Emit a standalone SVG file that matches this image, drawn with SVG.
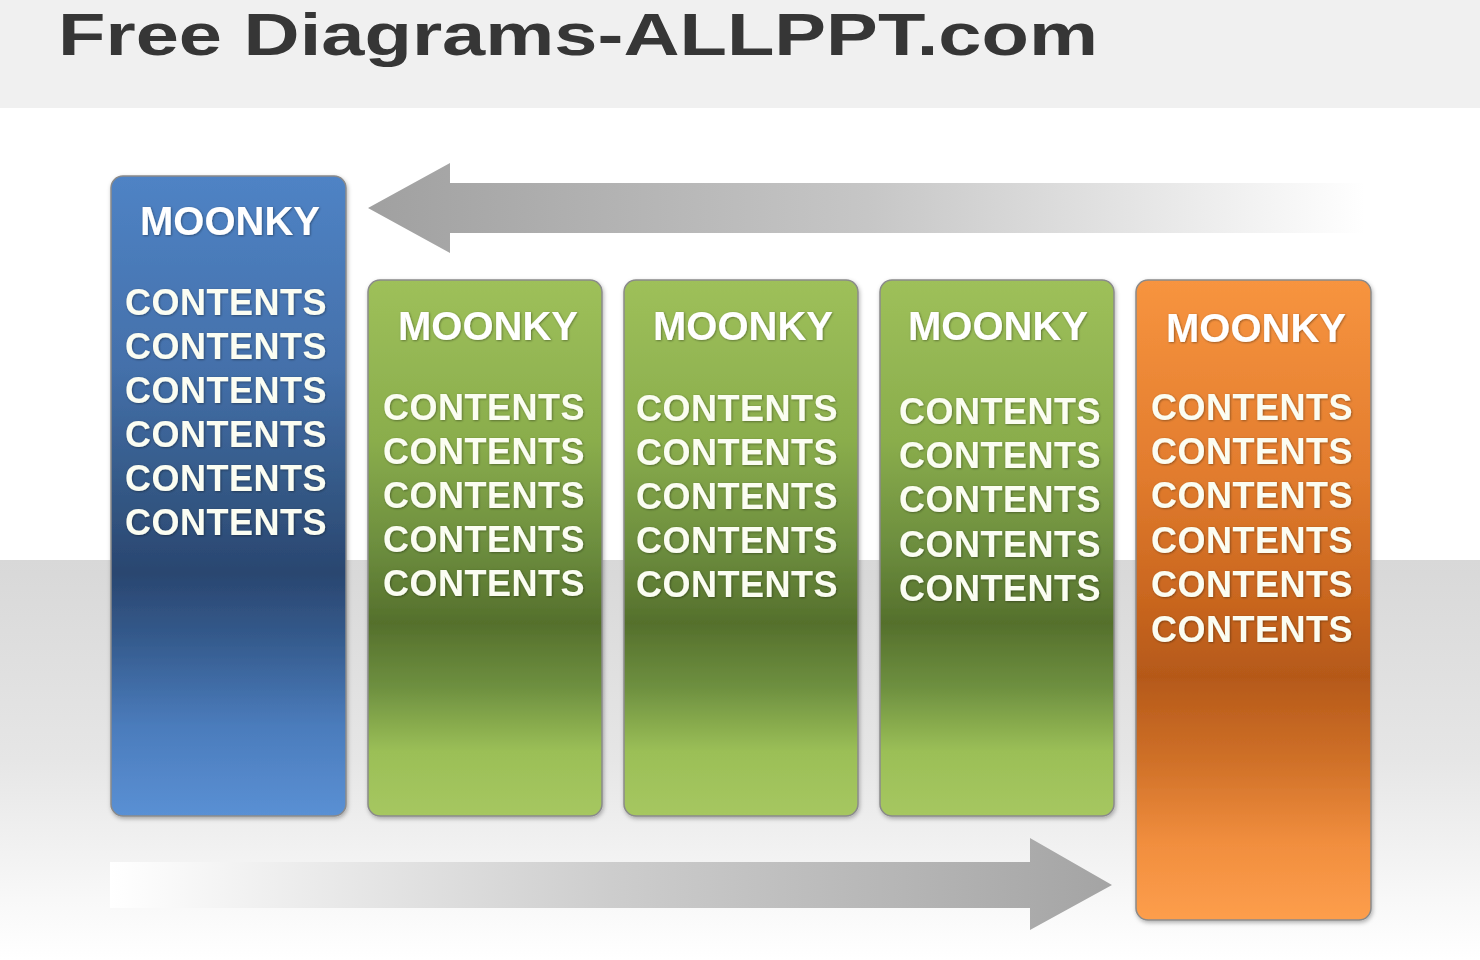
<svg xmlns="http://www.w3.org/2000/svg" width="1480" height="960" viewBox="0 0 1480 960">
<defs>
<linearGradient id="gBlue" x1="0" y1="0" x2="0" y2="1">
<stop offset="0" stop-color="#4f83c5"/><stop offset="0.3" stop-color="#4470aa"/><stop offset="0.5" stop-color="#335784"/><stop offset="0.62" stop-color="#2a4670"/><stop offset="0.72" stop-color="#345a8c"/><stop offset="0.86" stop-color="#4b7cbc"/><stop offset="1" stop-color="#5a90d4"/>
</linearGradient>
<linearGradient id="gGreen" x1="0" y1="0" x2="0" y2="1">
<stop offset="0" stop-color="#9ec05a"/><stop offset="0.3" stop-color="#8aad4c"/><stop offset="0.5" stop-color="#6c8d3e"/><stop offset="0.64" stop-color="#55702c"/><stop offset="0.76" stop-color="#6e9040"/><stop offset="0.88" stop-color="#9bbf57"/><stop offset="1" stop-color="#a6c760"/>
</linearGradient>
<linearGradient id="gOrange" x1="0" y1="0" x2="0" y2="1">
<stop offset="0" stop-color="#f7943f"/><stop offset="0.3" stop-color="#e27c2e"/><stop offset="0.5" stop-color="#c9661f"/><stop offset="0.62" stop-color="#b55919"/><stop offset="0.75" stop-color="#cf7028"/><stop offset="0.88" stop-color="#f18e3e"/><stop offset="1" stop-color="#fd9e4c"/>
</linearGradient>
<linearGradient id="gFloor" x1="0" y1="0" x2="0" y2="1">
<stop offset="0" stop-color="#d8d8d8"/><stop offset="0.5" stop-color="#e6e6e6"/><stop offset="0.85" stop-color="#f8f8f8"/><stop offset="1" stop-color="#ffffff"/>
</linearGradient>
<linearGradient id="gArrowL" x1="368" y1="0" x2="1365" y2="0" gradientUnits="userSpaceOnUse">
<stop offset="0" stop-color="#a0a0a0"/><stop offset="0.5" stop-color="#c6c6c6"/><stop offset="1" stop-color="#ffffff"/>
</linearGradient>
<linearGradient id="gArrowR" x1="110" y1="0" x2="1112" y2="0" gradientUnits="userSpaceOnUse">
<stop offset="0" stop-color="#ffffff"/><stop offset="0.5" stop-color="#cdcdcd"/><stop offset="1" stop-color="#a4a4a4"/>
</linearGradient>
<filter id="shadow" x="-10%" y="-5%" width="120%" height="110%">
<feDropShadow dx="1" dy="2" stdDeviation="2" flood-color="#000" flood-opacity="0.3"/>
</filter>
<filter id="tshadow" x="-5%" y="-20%" width="110%" height="140%">
<feDropShadow dx="0.8" dy="0.8" stdDeviation="0.8" flood-color="#000" flood-opacity="0.4"/>
</filter>
</defs>
<style>
.box{stroke:#8a8a8a;stroke-width:1.5;filter:url(#shadow)}
.title{font-family:"Liberation Sans",Arial,sans-serif;font-weight:bold;font-size:40px;fill:#ffffff;text-anchor:middle;filter:url(#tshadow)}
.body{font-family:"Liberation Sans",Arial,sans-serif;font-weight:bold;font-size:36px;fill:#fbfdf2;text-anchor:middle;letter-spacing:0.5px;filter:url(#tshadow)}
.head{font-family:"Liberation Sans",Arial,sans-serif;font-weight:bold;font-size:60px;fill:#363636}
</style>
<rect x="0" y="0" width="1480" height="960" fill="#ffffff"/>
<rect x="0" y="0" width="1480" height="108" fill="#f0f0f0"/>
<rect x="0" y="560" width="1480" height="400" fill="url(#gFloor)"/>
<text class="head" x="58" y="55" textLength="1040" lengthAdjust="spacingAndGlyphs">Free Diagrams-ALLPPT.com</text>

<g id="connectors">
<polygon points="368,208 450,163 450,183 1365,183 1365,233 450,233 450,253" fill="url(#gArrowL)"/>
<polygon points="110,862 1030,862 1030,838 1112,885 1030,930 1030,908 110,908" fill="url(#gArrowR)"/>
</g>

<g id="node1">
<rect class="box" x="111" y="176" width="235" height="640" rx="12" fill="url(#gBlue)"/>
<text class="title" x="230" y="235">MOONKY</text>
<text class="body" x="226" y="315">CONTENTS</text>
<text class="body" x="226" y="359">CONTENTS</text>
<text class="body" x="226" y="403">CONTENTS</text>
<text class="body" x="226" y="447">CONTENTS</text>
<text class="body" x="226" y="491">CONTENTS</text>
<text class="body" x="226" y="535">CONTENTS</text>
</g>

<g id="node2">
<rect class="box" x="368" y="280" width="234" height="536" rx="12" fill="url(#gGreen)"/>
<text class="title" x="488" y="340">MOONKY</text>
<text class="body" x="484" y="420">CONTENTS</text>
<text class="body" x="484" y="464">CONTENTS</text>
<text class="body" x="484" y="508">CONTENTS</text>
<text class="body" x="484" y="552">CONTENTS</text>
<text class="body" x="484" y="596">CONTENTS</text>
</g>

<g id="node3">
<rect class="box" x="624" y="280" width="234" height="536" rx="12" fill="url(#gGreen)"/>
<text class="title" x="743" y="340">MOONKY</text>
<text class="body" x="737" y="421">CONTENTS</text>
<text class="body" x="737" y="465">CONTENTS</text>
<text class="body" x="737" y="509">CONTENTS</text>
<text class="body" x="737" y="553">CONTENTS</text>
<text class="body" x="737" y="597">CONTENTS</text>
</g>

<g id="node4">
<rect class="box" x="880" y="280" width="234" height="536" rx="12" fill="url(#gGreen)"/>
<text class="title" x="998" y="340">MOONKY</text>
<text class="body" x="1000" y="424">CONTENTS</text>
<text class="body" x="1000" y="468">CONTENTS</text>
<text class="body" x="1000" y="512">CONTENTS</text>
<text class="body" x="1000" y="557">CONTENTS</text>
<text class="body" x="1000" y="601">CONTENTS</text>
</g>

<g id="node5">
<rect class="box" x="1136" y="280" width="235" height="640" rx="12" fill="url(#gOrange)"/>
<text class="title" x="1256" y="342">MOONKY</text>
<text class="body" x="1252" y="420">CONTENTS</text>
<text class="body" x="1252" y="464">CONTENTS</text>
<text class="body" x="1252" y="508">CONTENTS</text>
<text class="body" x="1252" y="553">CONTENTS</text>
<text class="body" x="1252" y="597">CONTENTS</text>
<text class="body" x="1252" y="642">CONTENTS</text>
</g>
</svg>
